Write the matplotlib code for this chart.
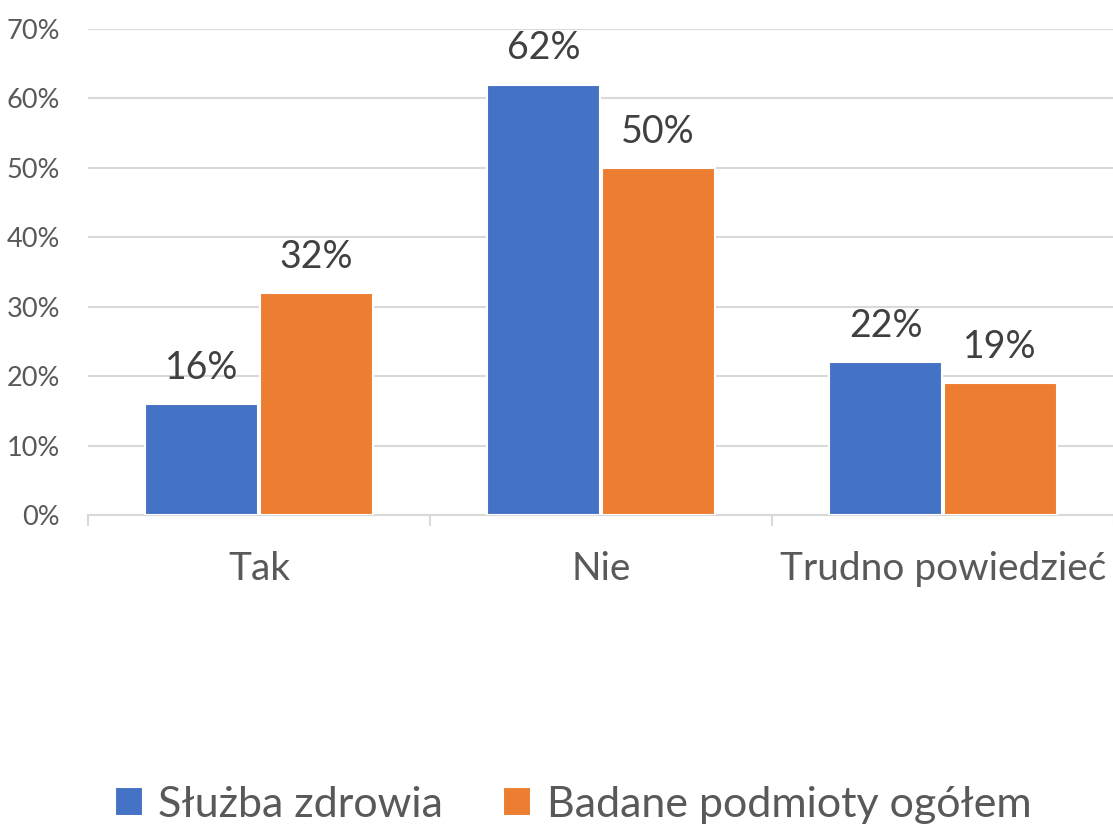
import matplotlib.pyplot as plt
import numpy as np

categories = ['Tak', 'Nie', 'Trudno powiedzieć']
sluzba = [16, 62, 22]
ogolem = [32, 50, 19]
series_names = ['Służba zdrowia', 'Badane podmioty ogółem']

plt.rcParams['font.family'] = ['Lato', 'DejaVu Sans']

fig = plt.figure(figsize=(11.13, 8.27), dpi=100)
ax = fig.add_axes([88/1113, 312/827, 1026/1113, 486/827])

x = np.arange(len(categories))
w = 0.33
b1 = ax.bar(x - 0.167, sluzba, w, color='#4472C4', edgecolor='white', linewidth=1.5,
            label=series_names[0], zorder=3)
b2 = ax.bar(x + 0.167, ogolem, w, color='#ED7D31', edgecolor='white', linewidth=1.5,
            label=series_names[1], zorder=3)

for bars in (b1, b2):
    for r in bars:
        ax.annotate(f'{r.get_height():.0f}%', (r.get_x() + r.get_width()/2, r.get_height()),
                    xytext=(0, 13), textcoords='offset points', ha='center', va='bottom',
                    fontsize=27, color='#404040')

ax.set_xlim(-0.5, 2.5)
ax.set_ylim(0, 70)
ax.set_yticks(range(0, 71, 10))
ax.set_yticklabels([f'{v}%' for v in range(0, 71, 10)])
ax.yaxis.grid(True, color='#D9D9D9', linewidth=1.5, zorder=0)
ax.tick_params(axis='y', length=0, pad=20, labelsize=19.5, labelcolor='#595959')

ax.set_xticks(x)
ax.set_xticklabels(categories)
ax.set_xticks([-0.5, 0.5, 1.5, 2.5], minor=True)
ax.tick_params(axis='x', which='major', length=0, pad=26, labelsize=28, labelcolor='#595959')
ax.tick_params(axis='x', which='minor', length=8, width=1.5, color='#D9D9D9')

for s in ['top', 'right', 'left']:
    ax.spines[s].set_visible(False)
ax.spines['bottom'].set_color('#D9D9D9')
ax.spines['bottom'].set_linewidth(1.5)

leg = fig.legend(loc='lower center', bbox_to_anchor=(0.515, -0.043), ncol=2, frameon=False,
                 fontsize=31, handlelength=0.65, handleheight=0.65, handletextpad=0.35,
                 columnspacing=1.4)
for t in leg.get_texts():
    t.set_color('#595959')

fig.savefig('out.png', dpi=100)
